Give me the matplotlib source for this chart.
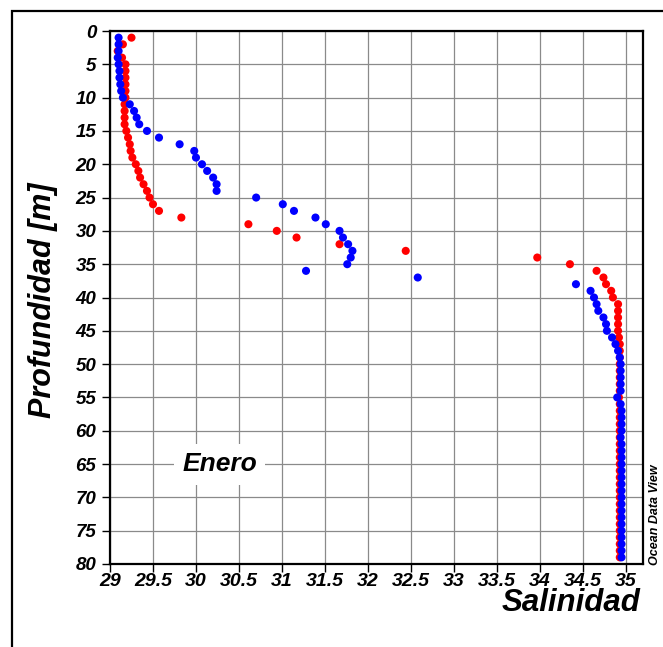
import numpy as np
import matplotlib.pyplot as plt
from matplotlib.patches import Rectangle

# depth (m) and salinity for the two profiles
depth_blue = [1, 2, 3, 4, 5, 6, 7, 8, 9, 10,
              11, 12, 13, 14, 15, 16, 17, 18, 19, 20,
              21, 22, 23, 24, 25, 26, 27, 28, 29, 30,
              31, 32, 33, 34, 35, 36, 37, 38, 39, 40,
              41, 42, 43, 44, 45, 46, 47, 48, 49, 50,
              51, 52, 53, 54, 55, 56, 57, 58, 59, 60,
              61, 62, 63, 64, 65, 66, 67, 68, 69, 70,
              71, 72, 73, 74, 75, 76, 77, 78, 79]
sal_blue = [29.10, 29.10, 29.10, 29.09, 29.10, 29.11, 29.11, 29.12, 29.13, 29.15,
            29.23, 29.28, 29.31, 29.34, 29.43, 29.57, 29.81, 29.98, 30.00, 30.07,
            30.13, 30.20, 30.24, 30.24, 30.70, 31.01, 31.14, 31.39, 31.51, 31.67,
            31.71, 31.77, 31.82, 31.80, 31.76, 31.28, 32.58, 34.42, 34.59, 34.63,
            34.66, 34.68, 34.74, 34.77, 34.78, 34.84, 34.88, 34.91, 34.93, 34.94,
            34.94, 34.94, 34.94, 34.94, 34.90, 34.94, 34.95, 34.95, 34.95, 34.95,
            34.94, 34.95, 34.95, 34.95, 34.95, 34.95, 34.95, 34.95, 34.95, 34.95,
            34.95, 34.95, 34.95, 34.95, 34.95, 34.95, 34.95, 34.95, 34.95]

depth_red = [1, 2, 3, 4, 5, 6, 7, 8, 9, 10,
             11, 12, 13, 14, 15, 16, 17, 18, 19, 20,
             21, 22, 23, 24, 25, 26, 27, 28, 29, 30,
             31, 32, 33, 34, 35, 36, 37, 38, 39, 40,
             41, 42, 43, 44, 45, 46, 47, 48, 49, 50,
             51, 52, 53, 54, 55, 56, 57, 58, 59, 60,
             61, 62, 63, 64, 65, 66, 67, 68, 69, 70,
             71, 72, 73, 74, 75, 76, 77, 78, 79]
sal_red = [29.25, 29.15, 29.09, 29.14, 29.18, 29.18, 29.18, 29.18, 29.18, 29.18,
           29.17, 29.17, 29.17, 29.17, 29.19, 29.21, 29.23, 29.24, 29.26, 29.30,
           29.33, 29.35, 29.39, 29.43, 29.46, 29.50, 29.57, 29.83, 30.61, 30.94,
           31.17, 31.67, 32.44, 33.97, 34.35, 34.66, 34.74, 34.77, 34.83, 34.85,
           34.91, 34.91, 34.91, 34.91, 34.91, 34.92, 34.93, 34.93, 34.93, 34.93,
           34.93, 34.93, 34.93, 34.93, 34.92, 34.93, 34.93, 34.93, 34.93, 34.93,
           34.93, 34.93, 34.93, 34.93, 34.93, 34.93, 34.93, 34.93, 34.93, 34.93,
           34.93, 34.93, 34.93, 34.93, 34.93, 34.93, 34.93, 34.93, 34.93]

xticks = [29, 29.5, 30, 30.5, 31, 31.5, 32, 32.5, 33, 33.5, 34, 34.5, 35]
xticklabels = ['29', '29.5', '30', '30.5', '31', '31.5', '32', '32.5',
               '33', '33.5', '34', '34.5', '35']
yticks = [0, 5, 10, 15, 20, 25, 30, 35, 40, 45, 50, 55, 60, 65, 70, 75, 80]

plt.rcParams['font.family'] = ['Liberation Sans', 'DejaVu Sans']
label_font = dict(fontweight='bold', fontstyle='italic')

fig = plt.figure(figsize=(6.63, 6.47), dpi=100)
ax = fig.add_axes([110 / 663, 1 - 564 / 647, 533 / 663, 533 / 647])

# outer frame around the figure
fig.patches.append(Rectangle((12 / 663, -0.2), 1.2, 1 - 10.5 / 647 + 0.2,
                             transform=fig.transFigure, fill=False,
                             edgecolor='black', linewidth=1.6))

ax.scatter(sal_red, depth_red, s=34, color='#ff0000', edgecolors='none', zorder=3)
ax.scatter(sal_blue, depth_blue, s=34, color='#0000ff', edgecolors='none', zorder=4)

ax.set_xlim(29, 35.2)
ax.set_ylim(80, 0)
ax.set_xticks(xticks)
ax.set_xticklabels(xticklabels, fontsize=14, **label_font)
ax.set_yticks(yticks)
ax.set_yticklabels([str(t) for t in yticks], fontsize=13.5, **label_font)
ax.tick_params(axis='both', direction='out', length=6, width=1)
ax.tick_params(axis='x', pad=0.5)
ax.tick_params(axis='y', pad=4)

ax.grid(True, color='#8a8a8a', linewidth=0.9)
ax.set_axisbelow(True)
for sp in ax.spines.values():
    sp.set_linewidth(1.6)

ax.text(30.274, 65.0, 'Enero', fontsize=19, ha='center', va='center', zorder=5,
        bbox=dict(facecolor='white', edgecolor='none', pad=6), **label_font)

fig.text(640 / 663, 1 - 611 / 647, 'Salinidad', fontsize=22.5, ha='right', va='baseline',
         **label_font)
fig.text(43 / 663, 1 - 300 / 647, 'Profundidad [m]', fontsize=22, rotation=90,
         ha='center', va='center', **label_font)
fig.text(655 / 663, 1 - 565 / 647, 'Ocean Data View', fontsize=9, rotation=90,
         ha='center', va='bottom', **label_font)

fig.savefig('out.png', dpi=100)
